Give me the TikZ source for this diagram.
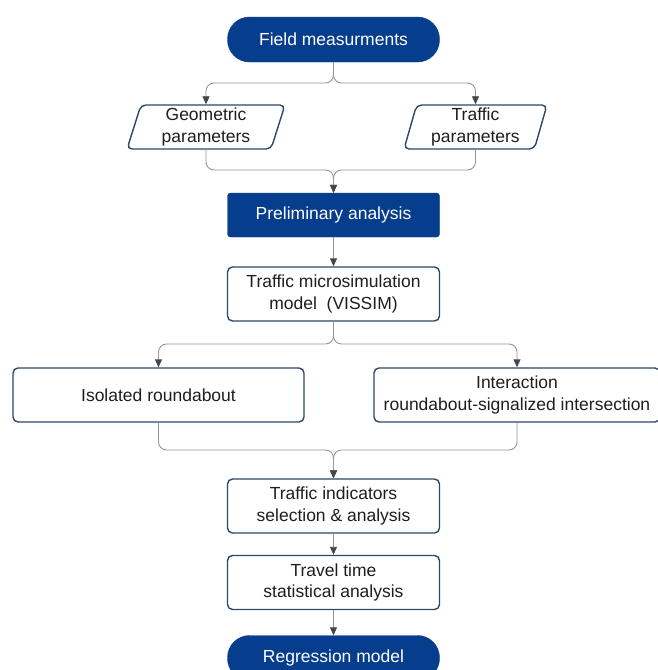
\documentclass[tikz,border=0pt]{standalone}
\usepackage{fontspec}
\setmainfont{Liberation Sans}
\usetikzlibrary{arrows.meta, shapes.geometric}

\definecolor{navyfill}{RGB}{6,61,140}
\definecolor{boxline}{RGB}{45,72,105}
\definecolor{linkgray}{RGB}{150,150,150}
\definecolor{tipgray}{RGB}{70,70,70}
\definecolor{textgray}{RGB}{30,30,30}

\tikzset{
    base/.style={align=center, inner sep=3pt, text=textgray,
                 font=\fontsize{17.5}{21.5}\selectfont},
    terminal/.style={base, draw=navyfill, fill=navyfill, text=white,
                     rounded corners=22pt, minimum width=212pt, minimum height=45pt},
    heading/.style={base, draw=navyfill, fill=navyfill, text=white,
                    rounded corners=3pt, minimum width=212pt, minimum height=44pt},
    stepbox/.style={base, draw=boxline, line width=1.4pt, fill=white,
                    rounded corners=5pt, minimum height=54pt},
    databox/.style={base, trapezium, trapezium left angle=77, trapezium right angle=103,
                    trapezium stretches=true, draw=boxline, line width=1.4pt, fill=white,
                    rounded corners=5pt, minimum height=44pt},
    link/.style={draw=linkgray, line width=0.9pt, rounded corners=8pt},
    arrow/.style={link, -{Triangle[length=8pt, width=7pt, color=tipgray]}}
}

\begin{document}
\begin{tikzpicture}[x=1pt, y=-1pt]
    \path[use as bounding box, fill=white] (0,0) rectangle (657,670);

    % boxes
    \node[terminal] (field) at (333.5,39.5) {Field measurments};
    \node[databox, minimum width=158pt] (geo) at (206,127) {Geometric\\parameters};
    \node[databox, minimum width=143pt] (traf) at (475.5,127) {Traffic\\parameters};
    \node[heading] (prelim) at (333.5,215) {Preliminary analysis};
    \node[stepbox, minimum width=212pt] (micro) at (333.5,294)
        {Traffic microsimulation\\model\ \ (VISSIM)};
    \node[stepbox, minimum width=291pt] (iso) at (158.5,395) {Isolated roundabout};
    \node[stepbox, minimum width=286pt] (inter) at (517,395)
        {Interaction\\roundabout-signalized intersection};
    \node[stepbox, minimum width=212pt] (ind) at (333.5,506)
        {Traffic indicators\\selection \& analysis};
    \node[stepbox, minimum width=212pt] (travel) at (333.5,582.5)
        {Travel time\\statistical analysis};
    \node[terminal] (regr) at (333.5,658) {Regression model};

    % split and join points
    \coordinate (split1) at (333.5,83);
    \coordinate (join1) at (333.5,170);
    \coordinate (split2) at (333.5,344);
    \coordinate (join2) at (333.5,450);

    % connectors
    \draw[arrow] (field.south) -- (split1) -| (geo.north);
    \draw[arrow] (field.south) -- (split1) -| (traf.north);
    \draw[arrow] (geo.south) |- (join1) -- (prelim.north);
    \draw[arrow] (traf.south) |- (join1) -- (prelim.north);
    \draw[arrow] (prelim.south) -- (micro.north);
    \draw[arrow] (micro.south) -- (split2) -| (iso.north);
    \draw[arrow] (micro.south) -- (split2) -| (inter.north);
    \draw[arrow] (iso.south) |- (join2) -- (ind.north);
    \draw[arrow] (inter.south) |- (join2) -- (ind.north);
    \draw[arrow] (ind.south) -- (travel.north);
    \draw[arrow] (travel.south) -- (regr.north);
\end{tikzpicture}
\end{document}
